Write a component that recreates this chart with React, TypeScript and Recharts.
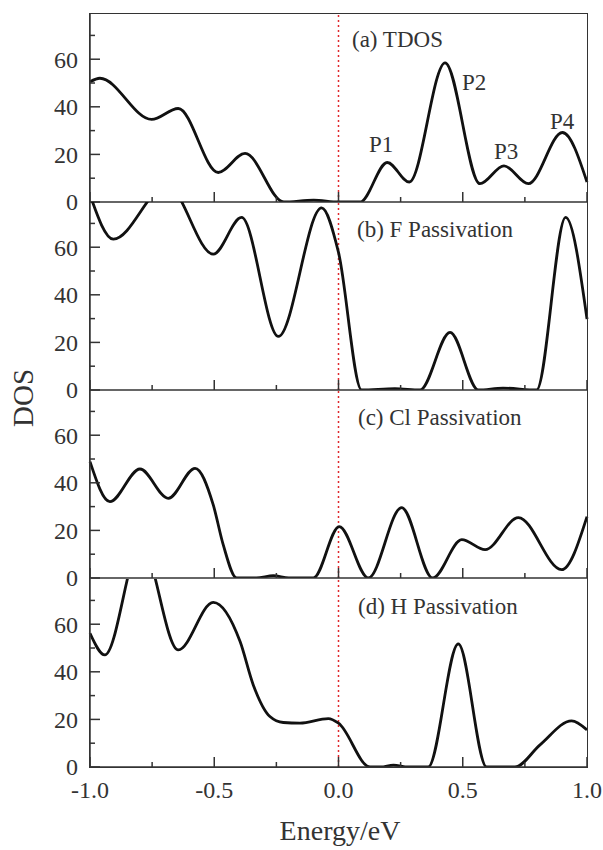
import { LineChart, Line, XAxis, YAxis, ReferenceLine } from 'recharts';

// Panel (a) TDOS
const tdosEnergy = [-1.0, -0.96, -0.752, -0.645, -0.484, -0.376, -0.22, -0.1, 0.0, 0.087, 0.196, 0.285, 0.429, 0.569, 0.666, 0.764, 0.901, 1.0];
const tdosValue = [50.5, 52, 34.7, 39.3, 12.4, 20.4, 0, 0.8, 0, 0, 16.6, 8.4, 58.5, 7.7, 15.2, 7.7, 29.2, 8.4];

// Panel (b) F Passivation
const fEnergy = [-1.0, -0.906, -0.69, -0.504, -0.39, -0.242, -0.068, 0.0, 0.093, 0.227, 0.328, 0.449, 0.563, 0.662, 0.797, 0.914, 1.0];
const fValue = [82, 63.4, 86, 57.1, 72.5, 22.5, 76.5, 57.8, 0, 0.6, 0, 24.2, 0, 0.8, 0, 72.5, 29.8];

// Panel (c) Cl Passivation
const clEnergy = [-1.0, -0.92, -0.799, -0.685, -0.577, -0.504, -0.464, -0.41, -0.33, -0.262, -0.2, -0.101, 0.003, 0.12, 0.254, 0.379, 0.496, 0.59, 0.724, 0.898, 1.0];
const clValue = [48.9, 32.1, 45.8, 33.5, 46.1, 30.7, 14, 0, 0, 1, 0, 0, 21.6, 0, 29.6, 0, 16.1, 11.9, 25.4, 3.5, 25.8];

// Panel (d) H Passivation
const hEnergy = [-1.0, -0.94, -0.795, -0.645, -0.504, -0.396, -0.343, -0.276, -0.222, -0.155, -0.041, 0.0, 0.127, 0.17, 0.221, 0.28, 0.361, 0.482, 0.596, 0.71, 0.811, 0.938, 1.0];
const hValue = [56.2, 47.1, 94, 49.2, 69.2, 52.7, 34.5, 21.2, 18.7, 18.4, 20.3, 18.4, 0, 0, 0.8, 0, 0, 51.7, 0, 0, 9.3, 19.4, 15.6];

const xTicks = [-1.0, -0.75, -0.5, -0.25, 0.0, 0.25, 0.5, 0.75, 1.0];
const yTicks = [0, 10, 20, 30, 40, 50, 60, 70];
const yMax = 79;

const panels = [
  { label: '(a) TDOS', energy: tdosEnergy, value: tdosValue },
  { label: '(b) F Passivation', energy: fEnergy, value: fValue },
  { label: '(c) Cl Passivation', energy: clEnergy, value: clValue },
  { label: '(d) H Passivation', energy: hEnergy, value: hValue },
];

const peakLabels = [
  { text: 'P1', cx: 382, cy: 145 },
  { text: 'P2', cx: 475, cy: 83 },
  { text: 'P3', cx: 507, cy: 152 },
  { text: 'P4', cx: 563, cy: 122 },
];

const FONT = "'Times New Roman', 'Liberation Serif', 'DejaVu Serif', serif";
const AXIS = '#333';
const W = 603;
const LEFT = 90;
const RIGHT = 16;
const PLOT_H = 188;
const TOPS = [14, 202, 390, 579];

const YTick = (props: any) => {
  const { y, payload } = props;
  const major = payload.value % 20 === 0;
  return (
    <g>
      <line x1={LEFT} x2={LEFT + (major ? 10 : 5)} y1={y} y2={y} stroke={AXIS} strokeWidth={1.5} />
      {major && (
        <text x={LEFT - 12} y={y} dy="0.35em" textAnchor="end" fontFamily={FONT} fontSize={24} fill={AXIS}>
          {payload.value}
        </text>
      )}
    </g>
  );
};

const makeXTick = (showLabel: boolean) => (props: any) => {
  const { x, payload } = props;
  const v = payload.value;
  const major = Math.abs(Math.round(v * 2) - v * 2) < 1e-6;
  return (
    <g>
      <line x1={x} x2={x} y1={PLOT_H} y2={PLOT_H - (major ? 10 : 5)} stroke={AXIS} strokeWidth={1.5} />
      {showLabel && major && (
        <text x={x} y={PLOT_H + 31} textAnchor="middle" fontFamily={FONT} fontSize={24} fill={AXIS}>
          {v.toFixed(1)}
        </text>
      )}
    </g>
  );
};

const Panel = ({ idx }: { idx: number }) => {
  const p = panels[idx];
  const last = idx === panels.length - 1;
  const data = p.energy.map((e, i) => ({ e, v: p.value[i] }));
  const axisH = last ? 45 : 14;
  return (
    <div style={{ position: 'absolute', left: 0, top: TOPS[idx] }}>
      <LineChart width={W} height={PLOT_H + axisH} data={data} margin={{ top: 0, right: RIGHT, bottom: 0, left: 0 }}>
        <XAxis
          dataKey="e"
          type="number"
          domain={[-1, 1]}
          ticks={xTicks}
          interval={0}
          height={axisH}
          axisLine={{ stroke: AXIS, strokeWidth: 1.5 }}
          tickLine={false}
          tick={makeXTick(last)}
        />
        <YAxis
          type="number"
          domain={[0, yMax]}
          allowDataOverflow
          ticks={yTicks}
          interval={0}
          width={LEFT}
          axisLine={{ stroke: AXIS, strokeWidth: 1.5 }}
          tickLine={false}
          tick={YTick}
        />
        <ReferenceLine x={0} stroke="#e0282d" strokeWidth={1.5} strokeDasharray="2 3" />
        <Line
          type="monotone"
          dataKey="v"
          stroke="#111"
          strokeWidth={2.8}
          dot={false}
          isAnimationActive={false}
        />
      </LineChart>
    </div>
  );
};

const textStyle = (left: number, cy: number, size: number): React.CSSProperties => ({
  position: 'absolute',
  left,
  top: cy - size * 0.6,
  fontFamily: FONT,
  fontSize: size,
  lineHeight: `${size * 1.2}px`,
  color: AXIS,
  whiteSpace: 'nowrap',
});

const labelPos = [
  { left: 352, cy: 40 },
  { left: 357, cy: 230 },
  { left: 358, cy: 418 },
  { left: 358, cy: 607 },
];

export default function App() {
  return (
    <div style={{ position: 'absolute', left: 0, top: 0, width: W, height: 850, background: '#fff', overflow: 'hidden', fontFamily: FONT }}>
      {panels.map((_, i) => (
        <Panel key={i} idx={i} />
      ))}
      <div
        style={{
          position: 'absolute',
          left: LEFT - 0.75,
          top: TOPS[0] - 0.75,
          width: W - LEFT - RIGHT,
          height: TOPS[3] + PLOT_H - TOPS[0],
          border: `1.5px solid ${AXIS}`,
          pointerEvents: 'none',
        }}
      />
      {panels.map((p, i) => (
        <div key={p.label} style={textStyle(labelPos[i].left, labelPos[i].cy, 23)}>
          {p.label}
        </div>
      ))}
      {peakLabels.map((pk) => (
        <div key={pk.text} style={{ ...textStyle(pk.cx - 13, pk.cy, 23) }}>
          {pk.text}
        </div>
      ))}
      <div
        style={{
          position: 'absolute',
          left: 23,
          top: 398,
          transform: 'translate(-50%, -50%) rotate(-90deg)',
          fontFamily: FONT,
          fontSize: 29,
          color: AXIS,
          whiteSpace: 'nowrap',
          lineHeight: '30px',
        }}
      >
        DOS
      </div>
      <div
        style={{
          position: 'absolute',
          left: 340,
          top: 831,
          transform: 'translate(-50%, -50%)',
          fontFamily: FONT,
          fontSize: 28,
          color: AXIS,
          whiteSpace: 'nowrap',
          lineHeight: '30px',
        }}
      >
        Energy/eV
      </div>
    </div>
  );
}
